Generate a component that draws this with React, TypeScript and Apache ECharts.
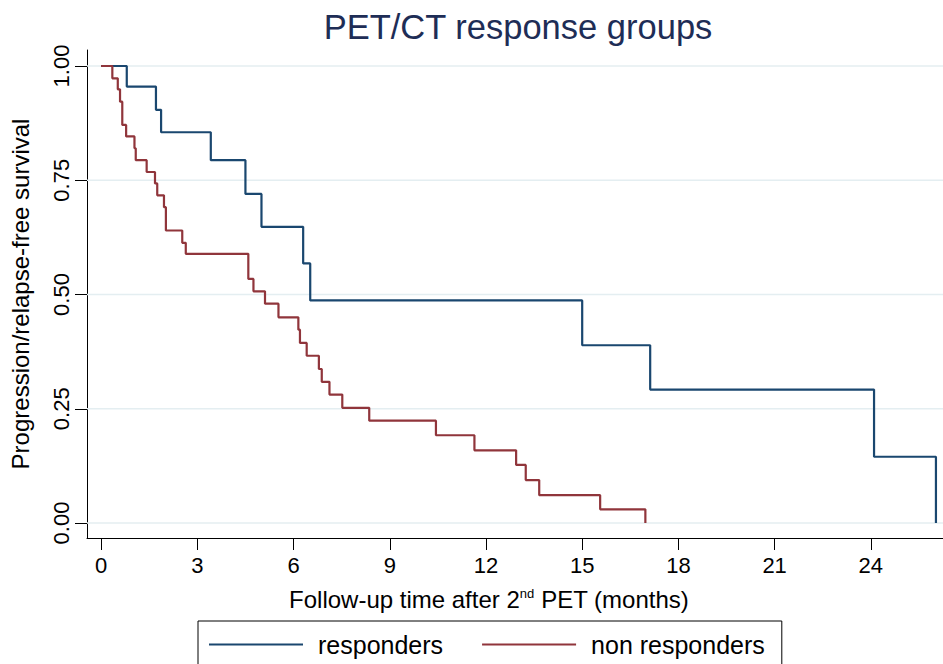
import React, { useEffect, useRef } from "react";
import * as echarts from "echarts";

const FONT = "'Liberation Sans', Arial, Helvetica, sans-serif";

const chartTitle = "PET/CT response groups";
const yAxisTitle = "Progression/relapse-free survival";
const seriesNames = ["responders", "non responders"];

const xTickValues = [0, 3, 6, 9, 12, 15, 18, 21, 24];
const yTickValues = [0, 0.25, 0.5, 0.75, 1];

const responderTimes = [0, 0.8, 1.71, 1.87, 3.42, 4.5, 5.0, 6.3, 6.52, 15.0, 17.12, 24.1, 26.03];
const responderSurvival = [1, 0.955, 0.904, 0.855, 0.794, 0.72, 0.648, 0.568, 0.487, 0.389, 0.292, 0.145, 0];

const nonResponderTimes = [
  0, 0.35, 0.52, 0.59, 0.66, 0.78, 1.04, 1.08, 1.42, 1.68, 1.75, 1.96, 2.02, 2.53, 2.64,
  4.59, 4.75, 5.11, 5.53, 6.15, 6.2, 6.41, 6.79, 6.88, 7.12, 7.52, 8.36, 10.44, 11.64,
  12.94, 13.24, 13.66, 15.56, 16.97,
];
const nonResponderSurvival = [
  1, 0.973, 0.949, 0.922, 0.871, 0.846, 0.82, 0.794, 0.768, 0.743, 0.717, 0.691, 0.64,
  0.613, 0.589, 0.534, 0.507, 0.48, 0.45, 0.423, 0.394, 0.366, 0.337, 0.309, 0.281, 0.252,
  0.224, 0.192, 0.159, 0.127, 0.094, 0.061, 0.03, 0,
];

const BLUE = "#1a476f";
const RED = "#90353b";
const X_MIN = -0.44;
const X_MAX = 26.25;

export default function App() {
  const ref = useRef<HTMLDivElement>(null);
  useEffect(() => {
    if (!ref.current) return;
    const chart = echarts.init(ref.current, undefined, { renderer: "svg" });
    const zip = (t: number[], s: number[]) => t.map((v, i) => [v, s[i]]);
    const gridSeries = yTickValues.map((v, i) => ({
      type: "line",
      name: "grid" + i,
      silent: true,
      symbol: "none",
      showSymbol: false,
      z: 1,
      lineStyle: { color: "#e4eef1", width: 1.5 },
      data: [
        [X_MIN, v],
        [X_MAX, v],
      ],
    }));
    chart.setOption({
      animation: false,
      backgroundColor: "#ffffff",
      textStyle: { fontFamily: FONT },
      grid: { left: 87, top: 50, right: 0, height: 488, containLabel: false },
      xAxis: {
        type: "value",
        min: X_MIN,
        max: X_MAX,
        axisLine: { show: true, onZero: false, lineStyle: { color: "#000", width: 1 } },
        axisTick: { show: true, length: 12, customValues: xTickValues, lineStyle: { color: "#000" } },
        axisLabel: {
          customValues: xTickValues,
          margin: 16,
          fontSize: 22,
          color: "#000",
          fontFamily: FONT,
        },
        splitLine: { show: false },
      },
      yAxis: {
        type: "value",
        min: -0.0328,
        max: 1.035,
        name: yAxisTitle,
        nameLocation: "middle",
        nameGap: 55,
        nameTextStyle: { fontSize: 24, color: "#000", fontFamily: FONT },
        axisLine: { show: true, onZero: false, lineStyle: { color: "#000", width: 1 } },
        axisTick: { show: true, length: 12, customValues: yTickValues, lineStyle: { color: "#000" } },
        axisLabel: {
          customValues: yTickValues,
          rotate: 90,
          margin: 15,
          fontSize: 22,
          color: "#000",
          fontFamily: FONT,
          formatter: (v: number) => v.toFixed(2),
        },
        splitLine: { show: false },
      },
      legend: {
        left: 198,
        top: 621,
        data: seriesNames,
        orient: "horizontal",
        borderColor: "#000",
        borderWidth: 1,
        borderRadius: 0,
        backgroundColor: "#fff",
        padding: [11, 17, 30, 11],
        itemGap: 39,
        itemWidth: 94,
        itemHeight: 2,
        icon: "rect",
        textStyle: { fontSize: 25, color: "#000", fontFamily: FONT, lineHeight: 25, padding: [0, 0, 0, 10] },
      },
      graphic: [
        {
          type: "text",
          x: 518,
          y: 27,
          style: {
            text: chartTitle,
            fontSize: 34.5,
            fontFamily: FONT,
            fill: "#1e2d56",
            align: "center",
            verticalAlign: "middle",
          },
        },
        {
          type: "text",
          x: 489,
          y: 599,
          style: {
            text: "Follow-up time after 2{sup|nd} PET (months)",
            fontSize: 24,
            fontFamily: FONT,
            fill: "#000",
            align: "center",
            verticalAlign: "middle",
            rich: {
              sup: { fontSize: 13, fontFamily: FONT, fill: "#000", verticalAlign: "top", padding: [0, 0, 10, 0] },
            },
          },
        },
      ],
      series: [
        ...gridSeries,
        {
          type: "line",
          name: seriesNames[0],
          step: "end",
          showSymbol: false,
          symbol: "none",
          z: 2,
          color: BLUE,
          lineStyle: { color: BLUE, width: 2.2 },
          itemStyle: { color: BLUE },
          data: zip(responderTimes, responderSurvival),
        },
        {
          type: "line",
          name: seriesNames[1],
          step: "end",
          showSymbol: false,
          symbol: "none",
          z: 3,
          color: RED,
          lineStyle: { color: RED, width: 2.2 },
          itemStyle: { color: RED },
          data: zip(nonResponderTimes, nonResponderSurvival),
        },
      ],
    });
    return () => chart.dispose();
  }, []);
  return (
    <div
      ref={ref}
      style={{ position: "fixed", left: 0, top: 0, width: 943, height: 664, background: "#fff" }}
    />
  );
}
